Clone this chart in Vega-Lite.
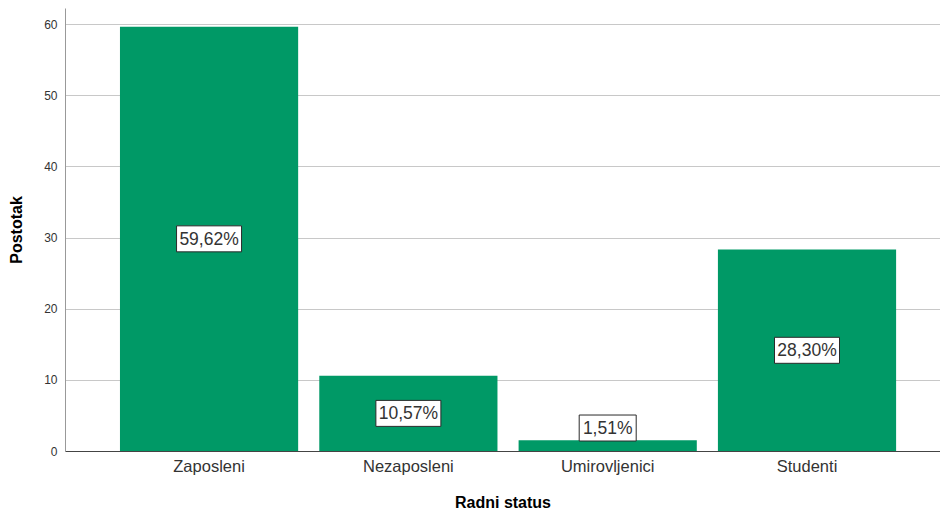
{
  "$schema": "https://vega.github.io/schema/vega-lite/v6.json",
  "width": 875,
  "height": 443,
  "autosize": {"type": "none"},
  "padding": {"left": 65, "top": 8, "right": 0, "bottom": 62},
  "background": "white",
  "config": {
    "view": {"stroke": null},
    "font": "Liberation Sans"
  },
  "data": {
    "values": [
      {"status": "Zaposleni", "v": 59.62, "label": "59,62%"},
      {"status": "Nezaposleni", "v": 10.57, "label": "10,57%"},
      {"status": "Umirovljenici", "v": 1.51, "label": "1,51%"},
      {"status": "Studenti", "v": 28.30, "label": "28,30%"}
    ]
  },
  "transform": [
    {"calculate": "max(datum.v / 2, 3.23)", "as": "ly"},
    {"calculate": "length(datum.label)", "as": "len"}
  ],
  "encoding": {
    "x": {
      "field": "status",
      "type": "nominal",
      "sort": null,
      "scale": {"paddingInner": 0.106, "paddingOuter": 0.248, "align": 0.556},
      "axis": {
        "title": "Radni status",
        "labelAngle": 0,
        "labelFontSize": 16.5,
        "labelColor": "#333333",
        "labelPadding": 7,
        "ticks": false,
        "domainColor": "#444444",
        "domainWidth": 1,
        "titleFontSize": 16,
        "titleFontWeight": "bold",
        "titleColor": "#000000",
        "titlePadding": 20
      }
    }
  },
  "layer": [
    {
      "mark": {"type": "bar", "color": "#009966"},
      "encoding": {
        "y": {
          "field": "v",
          "type": "quantitative",
          "scale": {"domain": [0, 62.25], "nice": false},
          "axis": {
            "title": "Postotak",
            "values": [0, 10, 20, 30, 40, 50, 60],
            "grid": true,
            "gridColor": "#c8c8c8",
            "gridWidth": 1,
            "ticks": false,
            "labelFontSize": 12,
            "labelColor": "#333333",
            "labelPadding": 8,
            "domainColor": "#999999",
            "titleFontSize": 16,
            "titleFontWeight": "bold",
            "titleColor": "#000000",
            "titlePadding": 19
          }
        }
      }
    },
    {
      "mark": {"type": "point", "filled": true, "fill": "white", "stroke": "#2a2a2a", "strokeWidth": 1, "opacity": 1},
      "encoding": {
        "y": {"field": "ly", "type": "quantitative"},
        "shape": {
          "field": "len",
          "type": "ordinal",
          "scale": {"domain": [5, 6], "range": ["M-1,-0.456H1V0.456H-1Z", "M-1,-0.4H1V0.4H-1Z"]},
          "legend": null
        },
        "size": {
          "field": "len",
          "type": "ordinal",
          "scale": {"domain": [5, 6], "range": [3249, 4225]},
          "legend": null
        }
      }
    },
    {
      "mark": {"type": "text", "fontSize": 17.5, "color": "#333333", "baseline": "middle", "align": "center", "dy": 1},
      "encoding": {
        "y": {"field": "ly", "type": "quantitative"},
        "text": {"field": "label"}
      }
    }
  ]
}
